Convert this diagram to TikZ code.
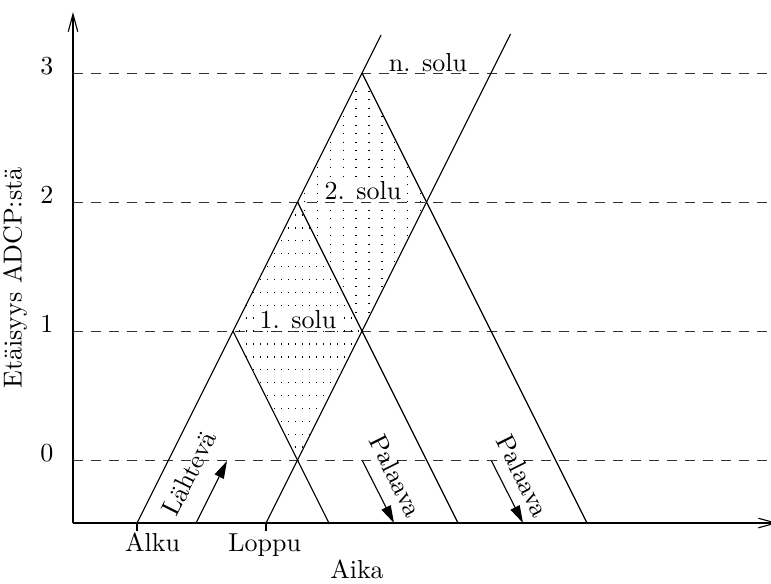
\documentclass[tikz,border=0pt]{standalone}
\usetikzlibrary{arrows.meta}
\begin{document}
\begin{tikzpicture}[x=0.4pt,y=-0.4pt, line width=0.45pt,
  every node/.style={font=\fontsize{10.4}{12.5}\selectfont, inner sep=0pt},
  lvl/.style={line width=0.4pt, draw=black!80, dash pattern=on 4pt off 3.2pt},
  axisarrow/.style={-{Straight Barb[length=7pt,width=3.8pt]}},
  flowarrow/.style={-{Triangle[length=7pt,width=4pt]}},
  rowdots/.style={line width=0.55pt, dash pattern=on 0.55pt off 2.25pt},
  coldots/.style={line width=0.55pt, dash pattern=on 0.55pt off 2.85pt},
  cellbox/.style={fill=white, inner sep=1pt, anchor=base},
  numlab/.style={anchor=base}]
\useasboundingbox (0,0) rectangle (771,583);

% axes
\coordinate (O) at (73,523);
\coordinate (Ytop) at (73,12);
\coordinate (Xend) at (778,523);
\draw[axisarrow] (O) -- (Ytop);
\draw[axisarrow] (O) -- (Xend);

% level lines
\foreach \n/\yy in {0/460,1/331,2/202,3/73}{
  \coordinate (L\n a) at (73,\yy);
  \coordinate (L\n b) at (771,\yy);
  \draw[lvl] (L\n a) -- (L\n b);
  \node[numlab] (num\n) at (47,\yy+1) {\n};
}

% key points
\coordinate (A) at (137,523);
\coordinate (Lp) at (266,523);
\coordinate (P1) at (233,331);
\coordinate (P2) at (297.5,202);
\coordinate (P3) at (362,73);
\coordinate (Q0) at (297.5,460);
\coordinate (Q1) at (362,331);
\coordinate (Q2) at (426.5,202);
\coordinate (T1) at (381,35);
\coordinate (T2) at (510.5,34);
\coordinate (R1) at (329,523);
\coordinate (R2) at (458,523);
\coordinate (R3) at (587,523);

% dotted fills
\begin{scope}
  \clip (P2) -- (P1) -- (Q0) -- (Q1) -- cycle;
  \foreach \k in {1,...,19}{
    \draw[rowdots] (225,{460-12.9*\k}) -- (370,{460-12.9*\k});
  }
\end{scope}
\begin{scope}
  \clip (P3) -- (P2) -- (Q1) -- (Q2) -- cycle;
  \foreach \k in {18,...,27}{
    \draw[coldots] ({73+12.87*\k},65) -- ({73+12.87*\k},335);
  }
\end{scope}

% beams
\draw (A) -- (T1);
\draw (Lp) -- (T2);
\draw (P1) -- (R1);
\draw (P2) -- (R2);
\draw (P3) -- (R3);

% ticks
\coordinate (At) at (137,531);
\coordinate (Lt) at (266,531);
\draw (A) -- (At);
\draw (Lp) -- (Lt);

% cell labels
\node[cellbox] (c1) at (298,328) {1. solu};
\node[cellbox] (c2) at (363,199) {2. solu};
\node[anchor=base] (cn) at (428,71) {n. solu};

% axis labels
\node[anchor=base] (alku) at (152.5,551) {Alku};
\node[anchor=base] (loppu) at (264.7,551) {Loppu};
\node[anchor=base] (aika) at (357,578) {Aika};
\node[anchor=base, rotate=90] (ylab) at (21.5,278) {Etäisyys ADCP:stä};

% direction arrows
\coordinate (la) at (196,523);
\coordinate (lb) at (227,461);
\draw[flowarrow] (la) -- (lb);
\node[rotate=63.43] (lah) at (189,473.5) {Lähtevä};

\coordinate (pa1) at (362.5,461);
\coordinate (pb1) at (394,523);
\draw[flowarrow] (pa1) -- (pb1);
\node[rotate=-63.43] (pal1) at (396,476) {Palaava};

\coordinate (pa2) at (491.5,461);
\coordinate (pb2) at (523,523);
\draw[flowarrow] (pa2) -- (pb2);
\node[rotate=-63.43] (pal2) at (523,476) {Palaava};
\end{tikzpicture}
\end{document}
